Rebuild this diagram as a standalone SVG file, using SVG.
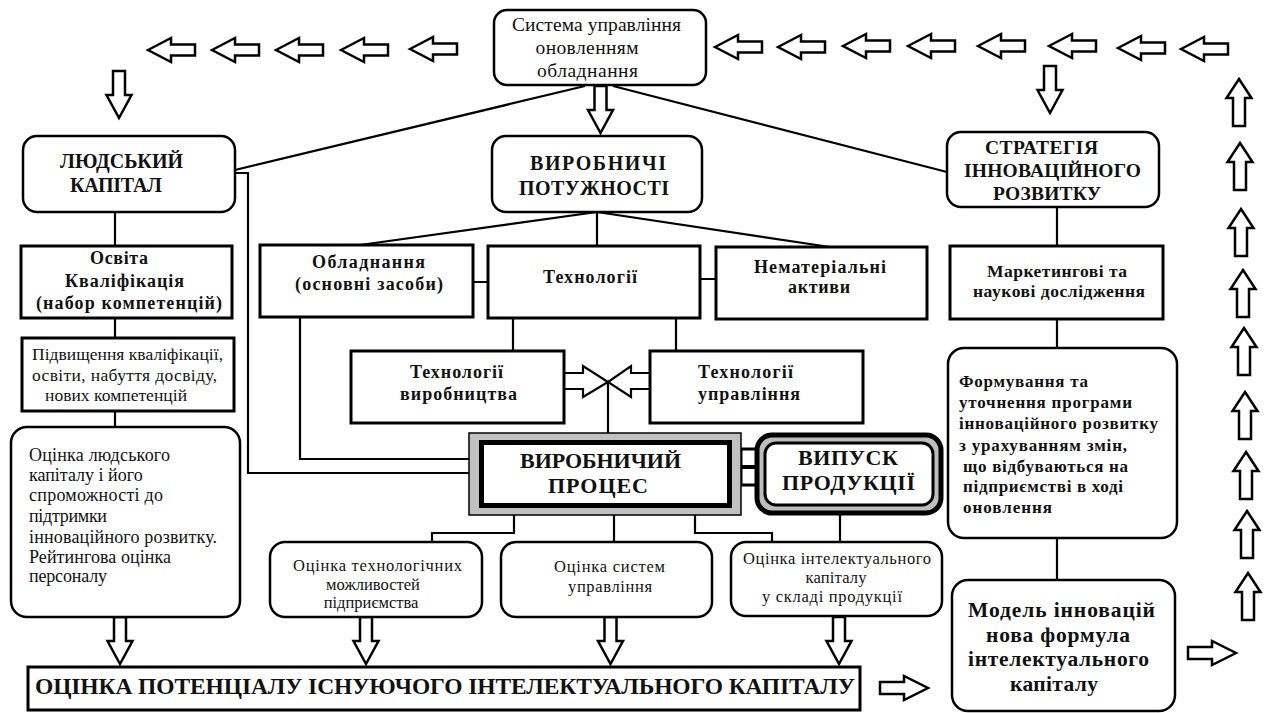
<svg xmlns="http://www.w3.org/2000/svg" width="1267" height="713" viewBox="0 0 1267 713">
<style>
.rb{fill:#fff;stroke:#000;stroke-width:2.5}
.sq{fill:#fff;stroke:#000;stroke-width:3}
.ln{fill:none;stroke:#000;stroke-width:2.2}
.arr{fill:#fff;stroke:#000;stroke-width:2.5;stroke-linejoin:miter}
text{font-family:"Liberation Serif","Times New Roman",serif;fill:#111}
.b{font-weight:bold}
.m{text-anchor:middle}
</style>
<defs>
<path id="aL" d="M0,0 L23,-12 L23,-5.5 L47,-5.5 L47,5.5 L23,5.5 L23,12 Z"/>
<path id="aR" d="M0,-6 L24,-6 L24,-12 L48,0 L24,12 L24,6 L0,6 Z"/>
<path id="aD" d="M-6,0 L6,0 L6,24 L12.5,24 L0,47 L-12.5,24 L-6,24 Z"/>
<path id="aU" d="M0,0 L12.5,19 L6,19 L6,47 L-6,47 L-6,19 L-12.5,19 Z"/>
</defs>
<rect width="1267" height="713" fill="#fff"/>

<g id="arrows" class="arr">
<use href="#aL" x="148" y="50"/><use href="#aL" x="212" y="50"/><use href="#aL" x="276" y="50"/><use href="#aL" x="341" y="50"/><use href="#aL" x="410" y="49"/>
<use href="#aL" x="715" y="47"/><use href="#aL" x="778" y="47"/><use href="#aL" x="843" y="46"/><use href="#aL" x="908" y="46"/><use href="#aL" x="978" y="46"/><use href="#aL" x="1049" y="46"/><use href="#aL" x="1118" y="48"/><use href="#aL" x="1181" y="49"/>
<use href="#aU" x="1239" y="79"/><use href="#aU" x="1240" y="143"/><use href="#aU" x="1241" y="209"/><use href="#aU" x="1243" y="270"/><use href="#aU" x="1244" y="328"/><use href="#aU" x="1245" y="392"/><use href="#aU" x="1246" y="452"/><use href="#aU" x="1247" y="511"/><use href="#aU" x="1248" y="573"/>
<use href="#aD" x="119" y="71"/><use href="#aD" x="600.5" y="86"/><use href="#aD" x="1050" y="66"/>
<use href="#aD" x="120" y="617"/><use href="#aD" x="366" y="617"/><use href="#aD" x="610.5" y="617"/><use href="#aD" x="839" y="617"/>
<use href="#aR" x="880" y="688"/><use href="#aR" x="1188" y="653"/>
</g>

<g id="connectors" class="ln">
<path d="M585,86 L235,170"/>
<path d="M613,86 L947,172"/>
<path d="M235,173 H248 V473 H470"/>
<path d="M300,318 V459 H470"/>
<path d="M115,212 V246 M115,318 V338 M115,411 V427"/>
<path d="M597,212 V246 M597,212 L360,245 M597,212 L830,247"/>
<path d="M473,282 H488 M700,279 H716"/>
<path d="M513,318 V351 M676,318 V351"/>
<path d="M564,373 H583 V366 L608,382 L583,397 V389 H564"/>
<path d="M650,373 H631 V366 L608,382 L631,397 V389 H650"/>
<path d="M608,382 V433"/>
<path d="M1057,207 V246 M1057,319 V348 M1057,538 V580"/>
<path d="M514,515 V533 H432 V542 M614,515 V542 M695,515 V533 H772 V542 M840,515 V542"/>
<rect x="741" y="449" width="16" height="36" fill="#fff" stroke-width="3"/>
<path d="M741,467 H757" stroke-width="4"/>
</g>

<g id="n-system">
<rect class="rb" x="494" y="10" width="212" height="75" rx="13"/>
<text class="m" x="596.5" y="31" font-size="19.5" textLength="169">Система управління</text>
<text class="m" x="587" y="54" font-size="19.5" textLength="103">оновленням</text>
<text class="m" x="587.5" y="77" font-size="19.5" textLength="101">обладнання</text>
</g>

<g id="n-human">
<rect class="rb" x="23" y="136" width="212" height="76" rx="14"/>
<text class="b" x="60" y="168" font-size="20" textLength="123">ЛЮДСЬКИЙ</text>
<text class="b" x="70" y="192" font-size="20" textLength="92">КАПІТАЛ</text>
</g>

<g id="n-capacity">
<rect class="rb" x="492" y="136" width="210" height="76" rx="14"/>
<text class="b m" x="598" y="170" font-size="20" textLength="136">ВИРОБНИЧІ</text>
<text class="b m" x="594" y="195" font-size="20" textLength="150">ПОТУЖНОСТІ</text>
</g>

<g id="n-strategy">
<rect class="rb" x="947" y="132" width="212" height="75" rx="14"/>
<text class="b m" x="1041.5" y="154" font-size="19.5" textLength="113">СТРАТЕГІЯ</text>
<text class="b m" x="1052.5" y="177" font-size="19.5" textLength="177">ІННОВАЦІЙНОГО</text>
<text class="b m" x="1047" y="200" font-size="19.5" textLength="108">РОЗВИТКУ</text>
</g>

<g id="n-education">
<rect class="sq" x="21" y="246" width="211" height="72"/>
<text class="b m" x="119" y="264" font-size="18" textLength="58">Освіта</text>
<text class="b m" x="124.5" y="287" font-size="18" textLength="119">Кваліфікація</text>
<text class="b m" x="129" y="309" font-size="18" textLength="186">(набор компетенцій)</text>
</g>

<g id="n-training">
<rect class="sq" x="22" y="338" width="212" height="73"/>
<text x="32" y="360" font-size="17.5" textLength="191">Підвищення кваліфікації,</text>
<text x="32" y="381" font-size="17.5" textLength="185">освіти, набуття досвіду,</text>
<text x="45" y="401" font-size="17.5" textLength="142">нових компетенцій</text>
</g>

<g id="n-human-eval">
<rect class="rb" x="11" y="427" width="229" height="190" rx="16"/>
<text x="29" y="461" font-size="18" textLength="141">Оцінка людського</text>
<text x="29" y="481" font-size="18">капіталу і його</text>
<text x="29" y="501" font-size="18" textLength="134">спроможності до</text>
<text x="29" y="522" font-size="18" textLength="78">підтримки</text>
<text x="29" y="543" font-size="18" textLength="188">інноваційного розвитку.</text>
<text x="29" y="563" font-size="18" textLength="142">Рейтингова оцінка</text>
<text x="29" y="582" font-size="18" textLength="78">персоналу</text>
</g>

<g id="n-equipment">
<rect class="sq" x="260" y="245" width="213" height="72"/>
<text class="b m" x="368.5" y="268" font-size="18" textLength="113">Обладнання</text>
<text class="b m" x="369" y="290" font-size="18" textLength="148">(основні засоби)</text>
</g>

<g id="n-tech">
<rect class="sq" x="488" y="246" width="212" height="72"/>
<text class="b m" x="590" y="283" font-size="18" textLength="94">Технології</text>
</g>

<g id="n-intangible">
<rect class="sq" x="716" y="247" width="211" height="72"/>
<text class="b m" x="820" y="273" font-size="18" textLength="132">Нематеріальні</text>
<text class="b m" x="819" y="293" font-size="18" textLength="62">активи</text>
</g>

<g id="n-tech-prod">
<rect class="sq" x="351" y="351" width="213" height="72"/>
<text class="b m" x="456.5" y="378" font-size="18" textLength="93">Технології</text>
<text class="b m" x="458.5" y="400" font-size="18" textLength="117">виробництва</text>
</g>

<g id="n-tech-mgmt">
<rect class="sq" x="650" y="351" width="213" height="72"/>
<text class="b" x="698" y="378" font-size="18" textLength="95">Технології</text>
<text class="b" x="698" y="400" font-size="18" textLength="102">управління</text>
</g>

<g id="n-marketing">
<rect class="sq" x="950" y="246" width="213" height="73"/>
<text class="b m" x="1057" y="277" font-size="17.5" textLength="140">Маркетингові та</text>
<text class="b m" x="1059" y="297" font-size="17.5" textLength="172">наукові дослідження</text>
</g>

<g id="n-forming">
<rect class="rb" x="948" y="348" width="229" height="190" rx="16"/>
<text class="b" x="959" y="387" font-size="17" textLength="129">Формування та</text>
<text class="b" x="959" y="408" font-size="17" textLength="173">уточнення програми</text>
<text class="b" x="959" y="429" font-size="17" textLength="199">інноваційного розвитку</text>
<text class="b" x="959" y="451" font-size="17" textLength="168">з урахуванням змін,</text>
<text class="b" x="963" y="472" font-size="17" textLength="165">що відбуваються на</text>
<text class="b" x="963" y="492" font-size="17" textLength="160">підприємстві в ході</text>
<text class="b" x="963" y="513" font-size="17" textLength="89">оновлення</text>
</g>

<g id="n-model">
<rect class="rb" x="952" y="580" width="223" height="131" rx="16"/>
<text class="b m" x="1061.5" y="617" font-size="21.5" textLength="187">Модель інновацій</text>
<text class="b m" x="1058" y="642" font-size="21.5" textLength="144">нова формула</text>
<text class="b m" x="1058.5" y="666" font-size="21.5" textLength="181">інтелектуального</text>
<text class="b m" x="1054" y="691" font-size="21.5" textLength="88">капіталу</text>
</g>

<g id="n-process">
<rect x="469" y="433" width="272" height="82" fill="#c0c0c0" stroke="#000" stroke-width="1.5"/>
<rect x="481.5" y="442.5" width="248" height="63" fill="#fff" stroke="#000" stroke-width="5"/>
<text class="b m" x="600.5" y="468" font-size="22" textLength="161">ВИРОБНИЧИЙ</text>
<text class="b m" x="598" y="493" font-size="22" textLength="100">ПРОЦЕС</text>
</g>

<g id="n-output">
<rect x="757" y="435" width="184" height="78" rx="15" fill="#bdbdbd" stroke="#000" stroke-width="5"/>
<rect x="765" y="443" width="168" height="62" rx="11" fill="#fff" stroke="#000" stroke-width="3"/>
<text class="b m" x="848" y="465" font-size="22" textLength="100">ВИПУСК</text>
<text class="b m" x="848.5" y="490" font-size="22" textLength="133">ПРОДУКЦІЇ</text>
</g>

<g id="n-eval-tech">
<rect class="rb" x="270" y="542" width="212" height="75" rx="15"/>
<text class="m" x="377.5" y="571" font-size="16.5" textLength="169">Оцінка технологічних</text>
<text class="m" x="373" y="590" font-size="16.5">можливостей</text>
<text class="m" x="371" y="608" font-size="16.5">підприємства</text>
</g>

<g id="n-eval-mgmt">
<rect class="rb" x="501" y="542" width="211" height="75" rx="15"/>
<text class="m" x="609.5" y="572" font-size="16.5" textLength="111">Оцінка систем</text>
<text class="m" x="610" y="592" font-size="16.5" textLength="84">управління</text>
</g>

<g id="n-eval-ic">
<rect class="rb" x="731" y="542" width="211" height="74" rx="15"/>
<text class="m" x="837" y="564" font-size="16.5" textLength="188">Оцінка інтелектуального</text>
<text class="m" x="836" y="583" font-size="16.5" textLength="61">капіталу</text>
<text class="m" x="832" y="602" font-size="16.5" textLength="140">у складі продукції</text>
</g>

<g id="n-potential">
<rect class="sq" x="28" y="667" width="832" height="43"/>
<text class="b" x="35" y="694" font-size="23.5" textLength="820">ОЦІНКА ПОТЕНЦІАЛУ ІСНУЮЧОГО ІНТЕЛЕКТУАЛЬНОГО КАПІТАЛУ</text>
</g>
</svg>
